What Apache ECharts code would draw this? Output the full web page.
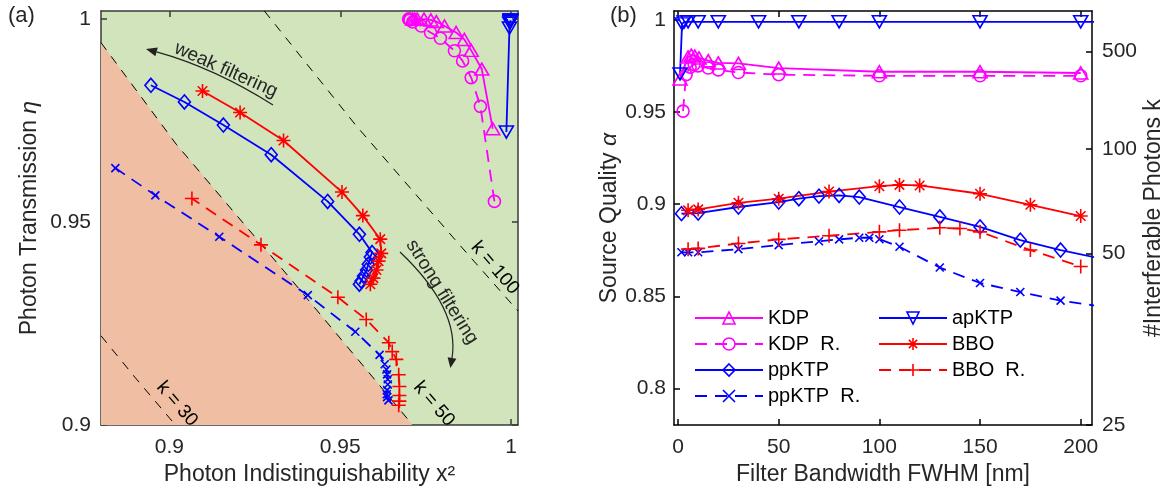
<!DOCTYPE html>
<html><head><meta charset="utf-8">
<script src="https://cdn.jsdelivr.net/npm/echarts@6/dist/echarts.min.js"></script>
<style>html,body{margin:0;padding:0;background:#fff}#c{width:1166px;height:491px}</style>
</head><body><div id="c"></div>
<script>
// ---------- Panel (b): filter bandwidth [nm] vs source quality alpha ----------
const kdpBW  = [1, 5, 6.6, 8.3, 10.4, 15, 20, 30, 50, 100, 150, 200];
const kdpQ   = [0.968, 0.980, 0.981, 0.9805, 0.9795, 0.978, 0.9768, 0.9765, 0.974, 0.972, 0.972, 0.9713];
const kdprBW = [2.5, 4, 6, 8, 10, 15, 20, 30, 50, 100, 150, 200];
const kdprQ  = [0.9506, 0.9704, 0.9745, 0.976, 0.9752, 0.974, 0.973, 0.9716, 0.9704, 0.9698, 0.9698, 0.9698];
const apBW   = [1, 2, 3, 5, 10, 20, 40, 60, 80, 100, 150, 200, 210];
const apQ    = [0.9708, 0.998, 0.999, 0.9991, 0.9991, 0.9991, 0.9991, 0.9991, 0.9991, 0.9991, 0.9991, 0.9991, 0.9991];
const ppBW   = [1.7, 10, 30, 50, 60, 70, 80, 90, 110, 130, 150, 170, 190, 210];
const ppQ    = [0.8949, 0.8952, 0.8985, 0.9012, 0.903, 0.9044, 0.9048, 0.9039, 0.8985, 0.8931, 0.8877, 0.8805, 0.8751, 0.8705];
const pprBW  = [1.7, 5, 10, 30, 50, 70, 80, 90, 95, 100, 110, 130, 150, 170, 190, 210];
const pprQ   = [0.8739, 0.8739, 0.8739, 0.8756, 0.8778, 0.8799, 0.8809, 0.8818, 0.8818, 0.881, 0.8769, 0.8656, 0.8572, 0.8523, 0.8476, 0.8445];
const bboBW  = [5, 10, 30, 50, 75, 100, 110, 120, 150, 175, 200];
const bboQ   = [0.8967, 0.8972, 0.9008, 0.903, 0.9069, 0.9098, 0.9105, 0.9102, 0.9057, 0.8997, 0.8936];
const bborBW = [5, 10, 30, 50, 75, 100, 110, 130, 140, 150, 175, 200];
const bborQ  = [0.8756, 0.876, 0.8787, 0.8809, 0.8829, 0.885, 0.8859, 0.8872, 0.8868, 0.885, 0.8751, 0.8662];

// ---------- Panel (a): indistinguishability x^2 vs transmission eta ----------
const kdpX   = [0.9946, 0.9914, 0.9883, 0.9863, 0.9839, 0.9805, 0.9781, 0.9765, 0.9745, 0.9725, 0.9718, 0.9712];
const kdpEta = [0.9730, 0.9877, 0.9923, 0.9950, 0.9967, 0.9983, 0.9994, 0.9998, 1.0, 1.0, 1.0, 1.0];
const kdprX  = [0.9951, 0.9910, 0.9883, 0.9858, 0.9834, 0.9793, 0.9764, 0.9737, 0.9712, 0.9704, 0.9702, 0.9700];
const kdprEta= [0.9551, 0.9785, 0.9856, 0.9897, 0.9922, 0.9953, 0.9967, 0.9983, 0.9993, 0.9998, 1.0, 1.0];
const apX    = [0.9986, 0.9995, 0.9996, 0.9997, 0.9997, 0.9998, 0.9998, 0.9998, 0.9998, 0.9998, 0.9998, 0.9998];
const apEta  = [0.9722, 0.9978, 0.9990, 0.9993, 0.9994, 0.9995, 0.9996, 0.9996, 0.9997, 0.9997, 0.9997, 0.9997];
const ppX    = [0.9556, 0.9561, 0.9568, 0.9577, 0.9582, 0.9588, 0.9593, 0.9556, 0.9463, 0.9298, 0.9158, 0.9044, 0.8946];
const ppEta  = [0.9347, 0.9355, 0.9367, 0.9382, 0.9396, 0.9414, 0.9425, 0.9470, 0.9551, 0.9666, 0.9739, 0.9796, 0.9837];
const pprX   = [0.9641, 0.9637, 0.9636, 0.9637, 0.9639, 0.9639, 0.9637, 0.9635, 0.9630, 0.9615, 0.9544, 0.9405, 0.9146, 0.8959, 0.8842];
const pprEta = [0.9061, 0.9069, 0.9076, 0.9086, 0.9100, 0.9113, 0.9125, 0.9137, 0.9150, 0.9173, 0.9230, 0.9320, 0.9464, 0.9566, 0.9633];
const bboX   = [0.9588, 0.9597, 0.9606, 0.9612, 0.9620, 0.9617, 0.9566, 0.9505, 0.9334, 0.9207, 0.9097];
const bboEta = [0.9347, 0.9362, 0.9382, 0.9404, 0.9423, 0.9458, 0.9516, 0.9574, 0.9701, 0.9770, 0.9823];
const bborX  = [0.9671, 0.9673, 0.9673, 0.9673, 0.9671, 0.9664, 0.9652, 0.9642, 0.9576, 0.9493, 0.9268, 0.9066];
const bborEta= [0.9049, 0.9059, 0.9073, 0.9095, 0.9124, 0.9162, 0.9181, 0.9203, 0.9260, 0.9315, 0.9444, 0.9558];

// contour lines k = const
const k30X  = [0.88, 0.89, 0.9018];           const k30Y  = [0.922, 0.9117, 0.9];
const k50X  = [0.88, 0.902, 0.9361, 0.9712];  const k50Y  = [0.9942, 0.9692, 0.9354, 0.9];
const k100X = [0.9278, 0.9547, 0.9849, 1.002]; const k100Y = [1.002, 0.9737, 0.9444, 0.9281];

// tick labels
const aXTicks = [0.9, 0.95, 1];
const aYTicks = [0.9, 0.95, 1];
const bXTicks = [0, 50, 100, 150, 200];
const bYTicks = [0.8, 0.85, 0.9, 0.95, 1];
const kLabels = ['500', '100', '50', '25'];
const kAlpha  = [0.9829, 0.9299, 0.8733, 0.78];

const FONT = '"Liberation Sans", Arial, Helvetica, sans-serif';
const TXT = '#262626';
const MAG = '#ff00ff', BLUE = '#0000ff', RED = '#ff0000';
const SYM = {
  tri: 'path://M5,0 L10,8.66 L0,8.66 Z',
  triDown: 'path://M0,0 L10,0 L5,8.66 Z',
  circle: 'path://M10,5 A5,5 0 1 1 0,5 A5,5 0 1 1 10,5 Z',
  diamond: 'path://M5,0 L10,6 L5,12 L0,6 Z',
  plus: 'path://M5,0 L5,10 M0,5 L10,5',
  cross: 'path://M0,0 L10,10 M10,0 L0,10',
  star: 'path://M5,0 L5,10 M0,5 L10,5 M1.6,1.6 L8.4,8.4 M8.4,1.6 L1.6,8.4'
};
const pairs = (a, b) => a.map((v, i) => [v, b[i]]);

function mk(name, xs, ys, color, sym, size, dashed, xi, yi) {
  return {
    type: 'line', name, xAxisIndex: xi, yAxisIndex: yi,
    data: pairs(xs, ys), symbol: sym, symbolSize: size, showSymbol: true,
    clip: true, z: 5, silent: true, animation: false,
    lineStyle: { color, width: 1.8, type: dashed ? [12, 8] : 'solid' },
    itemStyle: { color: 'rgba(0,0,0,0)', borderColor: color, borderWidth: 1.6 },
    emphasis: { disabled: true }
  };
}
const defs = [
  ['KDP', kdpBW, kdpQ, kdpX, kdpEta, MAG, SYM.tri, [14, 12], false],
  ['KDP  R.', kdprBW, kdprQ, kdprX, kdprEta, MAG, SYM.circle, 12, true],
  ['ppKTP', ppBW, ppQ, ppX, ppEta, BLUE, SYM.diamond, [12, 14], false],
  ['ppKTP  R.', pprBW, pprQ, pprX, pprEta, BLUE, SYM.cross, 8, true],
  ['apKTP', apBW, apQ, apX, apEta, BLUE, SYM.triDown, [14, 12], false],
  ['BBO', bboBW, bboQ, bboX, bboEta, RED, SYM.star, 14, false],
  ['BBO  R.', bborBW, bborQ, bborX, bborEta, RED, SYM.plus, 14, true]
];
const series = [];
// background region below k = 50
series.push({ type: 'line', xAxisIndex: 0, yAxisIndex: 0, data: pairs(k50X, k50Y), symbol: 'none',
  lineStyle: { width: 0 }, areaStyle: { color: '#f0bea2', opacity: 1, origin: 'start' }, z: 1, silent: true, animation: false });
[[k30X, k30Y], [k50X, k50Y], [k100X, k100Y]].forEach(([xs, ys]) => series.push({
  type: 'line', xAxisIndex: 0, yAxisIndex: 0, data: pairs(xs, ys), symbol: 'none', clip: true,
  lineStyle: { color: '#000', width: 1, type: [9, 8] }, z: 2, silent: true, animation: false }));
defs.forEach(d => series.push(mk(d[0], d[3], d[4], d[5], d[6], d[7], d[8], 0, 0)));
defs.forEach(d => series.push(mk(d[0], d[1], d[2], d[5], d[6], d[7], d[8], 2, 2)));

function ax(color, extra) {
  return Object.assign({
    type: 'value', splitLine: { show: false },
    axisLine: { show: true, onZero: false, lineStyle: { color, width: 1.5 } },
    axisTick: { show: true, inside: true, length: 6, lineStyle: { color, width: 1.5 } },
    axisLabel: { show: false }
  }, extra);
}
const lab = (vals, margin, fmt) => ({ show: true, customValues: vals, margin, fontSize: 21, color: TXT, fontFamily: FONT, formatter: fmt });
const tick = (color, vals) => ({ show: true, inside: true, length: 6, customValues: vals, lineStyle: { color, width: 1.5 } });
const nameStyle = { fontSize: 23, color: TXT, fontFamily: FONT };
const AC = '#3a3a3a', BC = '#000';

const option = {
  animation: false,
  backgroundColor: '#fff',
  grid: [
    { left: 101, top: 11, width: 417, height: 417, show: true, backgroundColor: '#d1e4bc', borderWidth: 0 },
    { left: 674, top: 11, width: 418, height: 417, show: false }
  ],
  xAxis: [
    ax(AC, { gridIndex: 0, min: 0.88, max: 1.002, position: 'bottom', axisLabel: lab(aXTicks, 12, v => String(v)), axisTick: tick(AC, aXTicks),
      name: 'Photon Indistinguishability x²', nameLocation: 'middle', nameGap: 36, nameTextStyle: nameStyle }),
    ax(AC, { gridIndex: 0, min: 0.88, max: 1.002, position: 'top', axisTick: tick(AC, aXTicks) }),
    ax(BC, { gridIndex: 1, min: -2, max: 205.6, position: 'bottom', axisLabel: lab(bXTicks, 12, v => String(v)), axisTick: tick(BC, bXTicks),
      name: 'Filter Bandwidth FWHM [nm]', nameLocation: 'middle', nameGap: 36, nameTextStyle: nameStyle }),
    ax(BC, { gridIndex: 1, min: -2, max: 205.6, position: 'top', axisTick: tick(BC, bXTicks) })
  ],
  yAxis: [
    ax(AC, { gridIndex: 0, min: 0.9, max: 1.002, position: 'left', axisLabel: lab(aYTicks, 10, v => String(v)), axisTick: tick(AC, aYTicks),
      name: '{n|Photon Transmission }{i|η}', nameLocation: 'middle', nameRotate: 90, nameGap: 60,
      nameTextStyle: { rich: { n: nameStyle, i: Object.assign({}, nameStyle, { fontStyle: 'italic' }) } } }),
    ax(AC, { gridIndex: 0, min: 0.9, max: 1.002, position: 'right', axisTick: tick(AC, aYTicks) }),
    ax(BC, { gridIndex: 1, min: 0.78, max: 1.005, position: 'left', axisLabel: lab(bYTicks, 8, v => String(v)), axisTick: tick(BC, bYTicks),
      name: '{n|Source Quality }{i|α}', nameLocation: 'middle', nameRotate: 90, nameGap: 36,
      nameTextStyle: { rich: { n: nameStyle, i: Object.assign({}, nameStyle, { fontStyle: 'italic' }) } } }),
    ax(BC, { gridIndex: 1, min: 0.78, max: 1.005, position: 'right',
      axisLabel: lab(kAlpha, 10, v => { let b = 0; kAlpha.forEach((a, i) => { if (Math.abs(a - v) < Math.abs(kAlpha[b] - v)) b = i; }); return kLabels[b]; }),
      axisTick: tick(BC, kAlpha),
      name: '#Interferable Photons k', nameLocation: 'middle', nameRotate: 90, nameGap: 50, nameTextStyle: nameStyle })
  ],
  legend: [
    { left: 689, top: 303, orient: 'vertical', itemWidth: 68, itemHeight: 15, itemGap: 6,
      data: ['KDP', 'KDP  R.', 'ppKTP', 'ppKTP  R.'], textStyle: { fontSize: 20, color: '#000', fontFamily: FONT },
      itemStyle: { borderWidth: 1.6 }, selectedMode: false },
    { left: 873, top: 303, orient: 'vertical', itemWidth: 68, itemHeight: 15, itemGap: 6,
      data: ['apKTP', 'BBO', 'BBO  R.'], textStyle: { fontSize: 20, color: '#000', fontFamily: FONT },
      itemStyle: { borderWidth: 1.6 }, selectedMode: false }
  ],
  graphic: [
    { type: 'text', left: 8, top: 5, style: { text: '(a)', font: '22px ' + FONT, fill: TXT } },
    { type: 'text', left: 610, top: 5, style: { text: '(b)', font: '22px ' + FONT, fill: TXT } },
    { type: 'text', x: 226, y: 70, rotation: -0.42, style: { text: 'weak filtering', font: '19px ' + FONT, fill: TXT, align: 'center', verticalAlign: 'middle' }, z: 10 },
    { type: 'text', x: 442, y: 292, rotation: -1.01, style: { text: 'strong filtering', font: '19px ' + FONT, fill: TXT, align: 'center', verticalAlign: 'middle' }, z: 10 },
    { type: 'text', x: 495, y: 268, rotation: -0.86, style: { text: 'k = 100', font: '19px ' + FONT, fill: '#000', align: 'center', verticalAlign: 'middle' }, z: 10 },
    { type: 'text', x: 434, y: 404, rotation: -0.86, style: { text: 'k = 50', font: '19px ' + FONT, fill: '#000', align: 'center', verticalAlign: 'middle' }, z: 10 },
    { type: 'text', x: 177, y: 404, rotation: -0.86, style: { text: 'k = 30', font: '19px ' + FONT, fill: '#000', align: 'center', verticalAlign: 'middle' }, z: 10 },
    { type: 'bezierCurve', shape: { x1: 273, y1: 105, cpx1: 214.5, cpy1: 68, x2: 156.6, y2: 51.9 }, style: { stroke: '#222', lineWidth: 1.2, fill: null }, z: 10 },
    { type: 'polygon', shape: { points: [[146, 49], [157.8, 47.6], [155.4, 56.2]] }, style: { fill: '#222' }, z: 10 },
    { type: 'bezierCurve', shape: { x1: 400, y1: 252, cpx1: 460, cpy1: 309, x2: 452, y2: 358 }, style: { stroke: '#222', lineWidth: 1.2, fill: null }, z: 10 },
    { type: 'polygon', shape: { points: [[450.4, 368], [456.4, 358.7], [447.6, 357.3]] }, style: { fill: '#222' }, z: 10 }
  ],
  series
};
const chart = echarts.init(document.getElementById('c'), null, { renderer: 'canvas' });
chart.setOption(option);
</script></body></html>
